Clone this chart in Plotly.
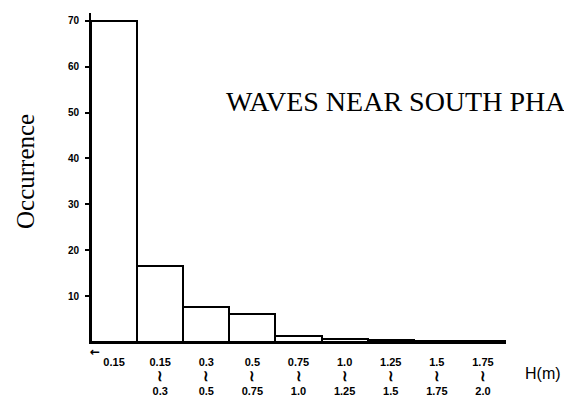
import plotly.graph_objects as go

categories = ["<0.15", "0.15-0.3", "0.3-0.5", "0.5-0.75", "0.75-1.0",
              "1.0-1.25", "1.25-1.5", "1.5-1.75", "1.75-2.0"]
occurrence = [70, 16.5, 7.7, 6.0, 1.4, 0.65, 0.5, 0.3, 0.2]
lower_edges = ["0.15", "0.3", "0.5", "0.75", "1.0", "1.25", "1.5", "1.75"]
upper_edges = ["0.3", "0.5", "0.75", "1.0", "1.25", "1.5", "1.75", "2.0"]
first_label = "0.15"
y_ticks = [10, 20, 30, 40, 50, 60, 70]

SQUIG = "<span style='font-size:15px'>≀</span>"
tick_labels = [first_label] + [f"{lo}<br>{SQUIG}<br>{hi}" for lo, hi in zip(lower_edges, upper_edges)]

# page has an 8px body margin; the figure is sized to fill the rest
OFF = 8
W, H = 572 - OFF, 416 - OFF
L, T = 91 - OFF, 13 - OFF
R = W - (506 - OFF)
B = H - (342 - OFF)
pw, ph = W - L - R, H - T - B

fig = go.Figure(go.Bar(
    x=categories, y=occurrence,
    marker=dict(color="white", line=dict(color="black", width=2)),
    width=1.0,
))

fig.update_layout(
    width=W, height=H,
    margin=dict(l=L, r=R, t=T, b=B, autoexpand=False),
    paper_bgcolor="white", plot_bgcolor="white",
    bargap=0, showlegend=False,
    font=dict(family="Liberation Sans", color="black"),
)
fig.update_xaxes(
    range=[-0.5, 8.5], tickmode="array", tickvals=categories, ticktext=tick_labels,
    showline=True, linecolor="black", linewidth=2, showgrid=False, ticks="",
    tickfont=dict(size=11, family="Liberation Sans", weight="bold"),
    ticklabelstandoff=9, tickangle=0,
)
fig.update_yaxes(
    range=[0, 71.7], tickvals=y_ticks,
    showline=True, linecolor="black", linewidth=2, showgrid=False, zeroline=False,
    ticks="outside", ticklen=4, tickwidth=1.5, tickcolor="black",
    tickfont=dict(size=10, family="Liberation Sans", weight="bold"),
    ticklabelstandoff=4,
)

def px_x(x):
    return (x - OFF - L) / pw

def px_y(y):
    return (H - B - (y - OFF)) / ph

fig.add_annotation(text="Occurrence", xref="paper", yref="paper",
                   x=px_x(25), y=px_y(172), xanchor="center", yanchor="middle",
                   textangle=-90, showarrow=False,
                   font=dict(family="Liberation Serif", size=25, color="black"))
fig.add_annotation(text="WAVES NEAR SOUTH PHA", xref="paper", yref="paper",
                   x=px_x(224), y=px_y(101), xanchor="left", yanchor="middle",
                   showarrow=False,
                   font=dict(family="Liberation Serif", size=28, color="black"))
fig.add_annotation(text="H(m)", xref="paper", yref="paper",
                   x=px_x(523), y=px_y(373), xanchor="left", yanchor="middle",
                   showarrow=False,
                   font=dict(family="Liberation Sans", size=16, color="black"))
fig.add_annotation(text="←", xref="paper", yref="paper",
                   x=px_x(95), y=px_y(352), xanchor="center", yanchor="middle",
                   showarrow=False,
                   font=dict(family="DejaVu Sans", size=12, color="black", weight="bold"))

fig.write_html("out.html")
